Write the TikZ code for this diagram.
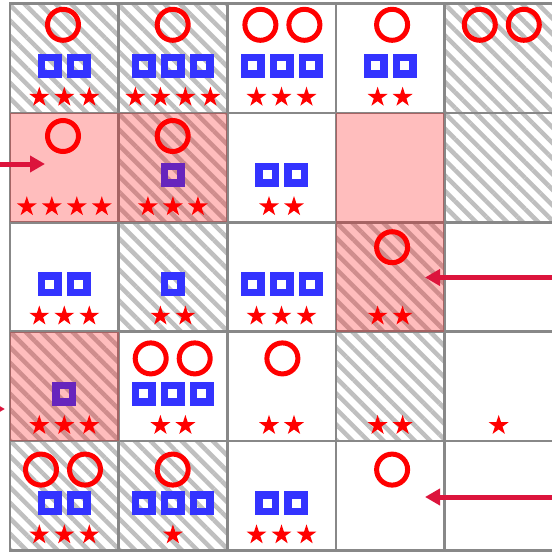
\documentclass[tikz,border=0pt]{standalone}
\usepackage{xcolor}
\usepackage{tikz}
\usetikzlibrary{positioning, arrows.meta, shapes.geometric, patterns.meta}

\definecolor{tokred}{RGB}{255,0,0}
\definecolor{tokblue}{RGB}{51,51,255}
\definecolor{flowred}{RGB}{220,20,60}
\definecolor{gridgray}{RGB}{136,136,136}
\definecolor{hatchgray}{RGB}{191,191,191}

\begin{document}
\begin{tikzpicture}[
  x=1pt, y=-1pt,
  cell/.style={minimum width=108.6pt, minimum height=109.4pt,
               inner sep=0pt, outer sep=0pt},
  hatched/.style={pattern={Lines[angle=-45, distance=11pt, line width=4.5pt]},
                  pattern color=hatchgray},
  gridline/.style={draw=gridgray, line width=2.6pt},
  ring/.style={circle, draw=tokred, line width=5pt, minimum size=31pt, inner sep=0pt},
  tokbox/.style={rectangle, draw=tokblue, line width=7.5pt, minimum size=16.5pt,
                 inner sep=0pt},
  starmark/.style={star, star points=5, star point ratio=2.618, minimum size=21pt,
                   inner sep=0pt, fill=tokred},
  hot/.style={fill=red, opacity=0.26},
  flow/.style={draw=flowred, line width=5pt, -{Triangle[length=15pt, width=16pt]}}
]
\useasboundingbox (0,0) rectangle (552,555);
\clip (0,0) rectangle (552,555);
\fill[white] (0,0) rectangle (552,555);

% cells: row/col/hatch/rings/boxes/stars
\foreach \r/\c/\hatch/\nring/\nbox/\nstar in {
    1/1/1/1/2/3, 1/2/1/1/3/4, 1/3/0/2/3/3, 1/4/0/1/2/2, 1/5/1/2/0/0,
    2/1/0/1/0/4, 2/2/1/1/1/3, 2/3/0/0/2/2, 2/4/0/0/0/0, 2/5/1/0/0/0,
    3/1/0/0/2/3, 3/2/1/0/1/2, 3/3/0/0/3/3, 3/4/1/1/0/2, 3/5/0/0/0/0,
    4/1/1/0/1/3, 4/2/0/2/3/2, 4/3/0/1/0/2, 4/4/1/0/0/2, 4/5/0/0/0/1,
    5/1/1/2/2/3, 5/2/1/1/3/1, 5/3/0/0/2/3, 5/4/0/1/0/0, 5/5/0/0/0/0}{
  \pgfmathsetmacro\cx{10+(\c-0.5)*108.6}
  \pgfmathsetmacro\cy{3.5+(\r-0.5)*109.4}
  \pgfmathsetmacro\rx{63+(\c-1)*109.7}
  \pgfmathsetmacro\ry{24.8+(\r-1)*111.2}
  \ifnum\hatch=1
    \node[cell, hatched] (cell-\r-\c) at (\cx,\cy) {};
  \else
    \node[cell] (cell-\r-\c) at (\cx,\cy) {};
  \fi
  \ifnum\nring>0
    \foreach \k in {1,...,\nring}
      \node[ring] (ring-\r-\c-\k) at ({\rx+(\k-(\nring+1)/2)*44},\ry) {};
  \fi
  \ifnum\nbox>0
    \foreach \k in {1,...,\nbox}
      \node[tokbox] (box-\r-\c-\k) at ({\cx+(\k-(\nbox+1)/2)*29},\cy+7.3) {};
  \fi
  \ifnum\nstar>0
    \foreach \k in {1,...,\nstar}
      \node[starmark] (star-\r-\c-\k) at ({\cx+(\k-(\nstar+1)/2)*25},\cy+39) {};
  \fi
}

% grid
\foreach \r in {1,...,5}
  \foreach \c in {1,...,5}
    \draw[gridline] (cell-\r-\c.north west) rectangle (cell-\r-\c.south east);

% highlighted cells
\foreach \r/\c in {2/1, 2/2, 2/4, 3/4, 4/1}
  \fill[hot] (cell-\r-\c.north west) rectangle (cell-\r-\c.south east);

% incoming arrows
\coordinate (in-2) at (-30,164);
\coordinate (tip-2) at (45,164);
\coordinate (in-3) at (600,277.5);
\coordinate (tip-3) at (425,277.5);
\coordinate (in-4) at (-80,409);
\coordinate (tip-4) at (5,409);
\coordinate (in-5) at (600,497);
\coordinate (tip-5) at (425,497);
\foreach \r in {2,...,5}
  \draw[flow] (in-\r) -- (tip-\r);
\end{tikzpicture}
\end{document}
